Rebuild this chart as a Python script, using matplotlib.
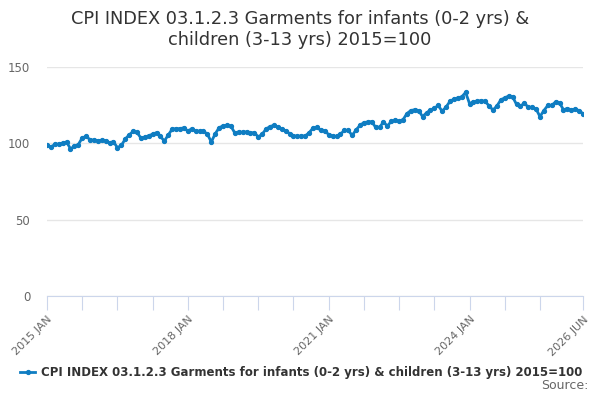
import pandas as pd
import matplotlib.pyplot as plt

######################################################
# Monthly index values, Jan 2015 to Jun 2026
months = pd.date_range('2015-01-01', '2026-06-01', freq='MS')
month_labels = [d.strftime('%Y %b').upper() for d in months]

cpi_2015_2017 = [99.1, 97.6, 99.3, 99.5, 100.2, 100.9, 96.5, 98.0, 99.2, 103.5, 104.6, 102.4,
                 102.0, 101.8, 102.0, 101.8, 100.4, 101.0, 97.2, 98.6, 102.8, 105.5, 107.8, 107.2,
                 103.5, 104.0, 105.0, 106.0, 107.0, 104.5, 101.5, 105.5, 109.3, 109.6, 109.6, 110.2]
cpi_2018_2020 = [108.0, 109.6, 108.0, 108.0, 108.0, 106.0, 100.9, 106.3, 110.2, 111.5, 111.8, 111.3,
                 106.8, 107.5, 107.2, 107.5, 106.8, 107.0, 104.2, 106.0, 109.4, 111.0, 111.8, 110.5,
                 109.2, 108.3, 106.4, 105.0, 104.6, 104.8, 104.8, 107.0, 110.0, 110.4, 108.5, 108.3]
cpi_2021_2023 = [105.7, 104.8, 104.5, 106.0, 108.5, 108.5, 105.2, 108.8, 111.8, 113.6, 114.0, 114.2,
                 110.5, 110.5, 114.0, 111.3, 114.5, 115.0, 114.5, 115.5, 119.5, 121.5, 122.0, 121.5,
                 117.5, 120.0, 121.8, 123.0, 124.8, 121.0, 123.8, 127.5, 129.0, 129.7, 130.5, 133.3]
cpi_2024_2026 = [126.0, 127.2, 127.5, 128.0, 127.5, 124.5, 121.8, 124.5, 128.5, 129.8, 131.0, 130.5,
                 125.5, 124.5, 126.2, 123.8, 123.5, 122.5, 117.5, 121.5, 124.8, 124.8, 127.2, 126.5,
                 122.0, 122.8, 122.0, 122.3, 121.5, 119.4]
cpi = cpi_2015_2017 + cpi_2018_2020 + cpi_2021_2023 + cpi_2024_2026

series_name = 'CPI INDEX 03.1.2.3 Garments for infants (0-2 yrs) & children (3-13 yrs) 2015=100'
title = 'CPI INDEX 03.1.2.3 Garments for infants (0-2 yrs) &\nchildren (3-13 yrs) 2015=100'

######################################################
# Plot
fig = plt.figure(figsize=(6, 4), dpi=100)
ax = fig.add_axes([0.0783, 0.26, 0.8934, 0.5725])

x = list(range(len(cpi)))
ax.plot(x, cpi, color='#0f7dc2', linewidth=2, marker='o', markersize=2.8,
        label=series_name)

ax.set_xlim(0, len(cpi) - 1)
ax.set_ylim(0, 150)
ax.set_yticks([0, 50, 100, 150])
ax.grid(axis='y', color='#e6e6e6', linewidth=1)
ax.set_axisbelow(True)

tick_pos = list(range(0, len(cpi) - 10, 9)) + [len(cpi) - 1]
labelled = [0, 36, 72, 108, len(cpi) - 1]
ax.set_xticks(tick_pos)
ax.set_xticklabels([month_labels[i] if i in labelled else '' for i in tick_pos],
                   rotation=45, ha='right', rotation_mode='anchor')

for side in ['top', 'right', 'left']:
    ax.spines[side].set_visible(False)
ax.spines['bottom'].set_color('#ccd6eb')
ax.tick_params(axis='x', colors='#ccd6eb', length=10, labelcolor='#666666',
               labelsize=8, pad=3)
ax.tick_params(axis='y', length=0, labelcolor='#666666', labelsize=8.5, pad=12)

fig.suptitle(title, x=0.5, y=0.975, fontsize=12.8, color='#333333', linespacing=1.2)

fig.legend(loc='center', bbox_to_anchor=(0.502, 0.068), frameon=False,
           prop={'size': 8.5, 'weight': 'bold'}, labelcolor='#333333',
           handlelength=1.2, handletextpad=0.5)
fig.text(0.98, 0.02, 'Source:', ha='right', va='bottom', fontsize=9, color='#666666')

fig.savefig('out.png', dpi=100)
